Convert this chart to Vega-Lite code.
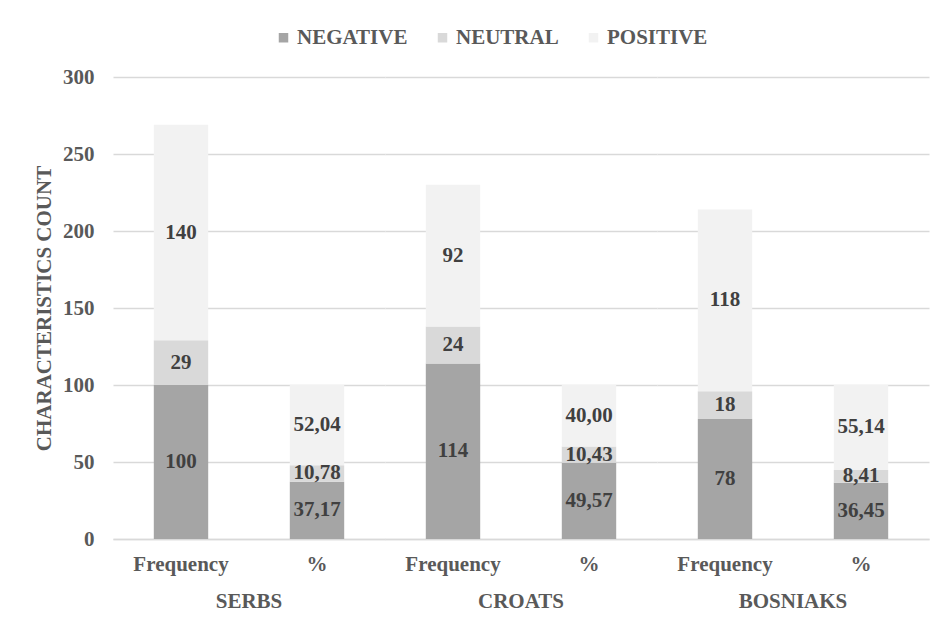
{
  "$schema": "https://vega.github.io/schema/vega-lite/v6.json",
  "padding": {"left": 33, "top": 27, "right": 10, "bottom": 5},
  "background": "white",
  "data": {
    "values": [
      {"group": "SERBS", "kind": "Frequency", "sentiment": "NEGATIVE", "rank": 1, "value": 100},
      {"group": "SERBS", "kind": "Frequency", "sentiment": "NEUTRAL", "rank": 2, "value": 29},
      {"group": "SERBS", "kind": "Frequency", "sentiment": "POSITIVE", "rank": 3, "value": 140},
      {"group": "SERBS", "kind": "%", "sentiment": "NEGATIVE", "rank": 1, "value": 37.17},
      {"group": "SERBS", "kind": "%", "sentiment": "NEUTRAL", "rank": 2, "value": 10.78},
      {"group": "SERBS", "kind": "%", "sentiment": "POSITIVE", "rank": 3, "value": 52.04},
      {"group": "CROATS", "kind": "Frequency", "sentiment": "NEGATIVE", "rank": 1, "value": 114},
      {"group": "CROATS", "kind": "Frequency", "sentiment": "NEUTRAL", "rank": 2, "value": 24},
      {"group": "CROATS", "kind": "Frequency", "sentiment": "POSITIVE", "rank": 3, "value": 92},
      {"group": "CROATS", "kind": "%", "sentiment": "NEGATIVE", "rank": 1, "value": 49.57},
      {"group": "CROATS", "kind": "%", "sentiment": "NEUTRAL", "rank": 2, "value": 10.43},
      {"group": "CROATS", "kind": "%", "sentiment": "POSITIVE", "rank": 3, "value": 40.00},
      {"group": "BOSNIAKS", "kind": "Frequency", "sentiment": "NEGATIVE", "rank": 1, "value": 78},
      {"group": "BOSNIAKS", "kind": "Frequency", "sentiment": "NEUTRAL", "rank": 2, "value": 18},
      {"group": "BOSNIAKS", "kind": "Frequency", "sentiment": "POSITIVE", "rank": 3, "value": 118},
      {"group": "BOSNIAKS", "kind": "%", "sentiment": "NEGATIVE", "rank": 1, "value": 36.45},
      {"group": "BOSNIAKS", "kind": "%", "sentiment": "NEUTRAL", "rank": 2, "value": 8.41},
      {"group": "BOSNIAKS", "kind": "%", "sentiment": "POSITIVE", "rank": 3, "value": 55.14}
    ]
  },
  "transform": [
    {"stack": "value", "groupby": ["group", "kind"], "sort": [{"field": "rank", "order": "ascending"}], "as": ["v0", "v1"]},
    {"calculate": "(datum.v0 + datum.v1) / 2", "as": "mid"},
    {"calculate": "datum.kind == '%' ? replace(format(datum.value, '.2f'), '.', ',') : format(datum.value, 'd')", "as": "label"}
  ],
  "facet": {
    "column": {
      "field": "group",
      "type": "nominal",
      "sort": ["SERBS", "CROATS", "BOSNIAKS"],
      "header": {
        "orient": "bottom",
        "title": null,
        "labelFont": "Liberation Serif, Times New Roman, serif",
        "labelFontWeight": "bold",
        "labelFontSize": 21,
        "labelColor": "#595959",
        "labelPadding": 17
      }
    }
  },
  "spacing": 0,
  "spec": {
    "width": 272,
    "height": 462,
    "layer": [
      {
        "mark": {"type": "bar"},
        "encoding": {
          "x": {
            "field": "kind",
            "type": "nominal",
            "sort": ["Frequency", "%"],
            "scale": {"paddingInner": 0.6, "paddingOuter": 0.3},
            "axis": {
              "title": null,
              "labelAngle": 0,
              "ticks": false,
              "domainColor": "#d9d9d9",
              "domainWidth": 1.5,
              "labelFont": "Liberation Serif, Times New Roman, serif",
              "labelFontWeight": "bold",
              "labelFontSize": 21,
              "labelColor": "#595959",
              "labelPadding": 14
            }
          },
          "y": {
            "field": "v0",
            "type": "quantitative",
            "scale": {"domain": [0, 300]},
            "axis": {
              "title": "CHARACTERISTICS COUNT",
              "values": [0, 50, 100, 150, 200, 250, 300],
              "domain": false,
              "ticks": false,
              "gridColor": "#d9d9d9",
              "gridWidth": 1.5,
              "labelFont": "Liberation Serif, Times New Roman, serif",
              "labelFontWeight": "bold",
              "labelFontSize": 21,
              "labelColor": "#595959",
              "labelPadding": 19,
              "titleFont": "Liberation Serif, Times New Roman, serif",
              "titleFontWeight": "bold",
              "titleFontSize": 21,
              "titleColor": "#595959",
              "titlePadding": 8
            }
          },
          "y2": {"field": "v1"},
          "color": {
            "field": "sentiment",
            "type": "nominal",
            "sort": ["NEGATIVE", "NEUTRAL", "POSITIVE"],
            "scale": {"domain": ["NEGATIVE", "NEUTRAL", "POSITIVE"], "range": ["#a5a5a5", "#d9d9d9", "#f2f2f2"]},
            "legend": {
              "title": null,
              "orient": "none",
              "direction": "horizontal",
              "legendX": 160,
              "legendY": -50,
              "symbolType": "square",
              "symbolSize": 90,
              "symbolStrokeWidth": 0,
              "symbolOpacity": 1,
              "labelFont": "Liberation Serif, Times New Roman, serif",
              "labelFontWeight": "bold",
              "labelFontSize": 21,
              "labelColor": "#595959",
              "labelOffset": 3,
              "columnPadding": 24
            }
          }
        }
      },
      {
        "mark": {"type": "text", "font": "Liberation Serif, Times New Roman, serif", "fontWeight": "bold", "fontSize": 21, "color": "#404040", "baseline": "middle", "align": "center"},
        "encoding": {
          "x": {"field": "kind", "type": "nominal", "sort": ["Frequency", "%"]},
          "y": {"field": "mid", "type": "quantitative"},
          "text": {"field": "label", "type": "nominal"}
        }
      }
    ]
  },
  "config": {
    "view": {"stroke": null},
    "axisY": {"grid": true}
  }
}
